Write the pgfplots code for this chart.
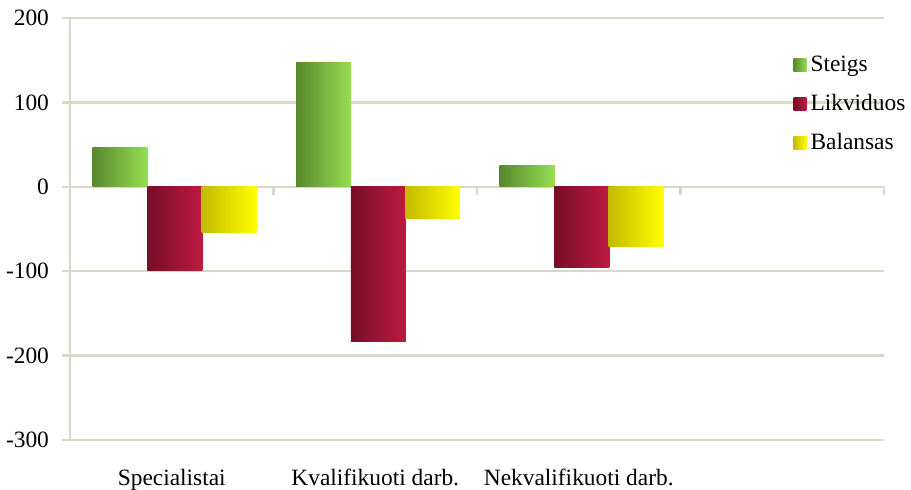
\documentclass[border=0pt]{standalone}
\usepackage{pgfplots}
\pgfplotsset{compat=1.18}
\usepackage{fontspec}
\setmainfont{Liberation Serif}
\definecolor{gridc}{RGB}{216,216,196}
\definecolor{gA}{RGB}{88,136,44}
\definecolor{gB}{RGB}{150,222,82}
\definecolor{rA}{RGB}{118,14,38}
\definecolor{rB}{RGB}{190,26,64}
\definecolor{yA}{RGB}{196,186,0}
\definecolor{yB}{RGB}{255,255,0}
\pgfplotsset{
  steigs/.style={bar shift=-0.254, draw=none, left color=gA, right color=gB},
  likv/.style={bar shift=0.015, draw=none, left color=rA, right color=rB},
  bal/.style={bar shift=0.282, draw=none, left color=yA, right color=yB},
}
\begin{document}
\begin{tikzpicture}
\begin{axis}[
  scale only axis,
  width=407pt, height=211pt,
  xmin=-0.5, xmax=3.5,
  ymin=-300, ymax=200,
  ytick={-300,-200,-100,0,100,200},
  ytick pos=left,
  xtick={0,1,2},
  xticklabels={Specialistai,Kvalifikuoti darb.,Nekvalifikuoti darb.},
  x tick style={draw=none},
  xticklabel style={yshift=-7pt},
  axis line style={draw=none},
  ymajorgrids,
  grid style={gridc, line width=1.2pt},
  y tick style={gridc, line width=1.2pt},
  tick align=outside,
  major tick length=4pt,
  yticklabel style={xshift=-3pt},
  tick label style={font=\fontsize{11.7}{13}\selectfont},
  /pgf/number format/assume math mode=true,
  ybar, bar width=0.27,
  legend style={at={(0.881,0.93)}, anchor=north west, draw=none, fill=none,
    font=\fontsize{11.7}{13}\selectfont, row sep=6pt,
    /tikz/every even column/.append style={column sep=0pt}},
  legend cell align=left,
  legend image code/.code={\path[#1, draw=none] (0pt,-3pt) rectangle (6.5pt,3.5pt);},
  clip=false,
]
\draw[gridc, line width=1.2pt] (axis cs:-0.5,-300) -- (axis cs:-0.5,200);
\draw[gridc, line width=1.2pt] (axis cs:-0.5,0) -- (axis cs:3.5,0);
\draw[gridc, line width=1.2pt] (axis cs:0.5,0) -- (axis cs:0.5,-9.5);
\draw[gridc, line width=1.2pt] (axis cs:1.5,0) -- (axis cs:1.5,-9.5);
\draw[gridc, line width=1.2pt] (axis cs:2.5,0) -- (axis cs:2.5,-9.5);
\draw[gridc, line width=1.2pt] (axis cs:3.5,0) -- (axis cs:3.5,-9.5);
% Steigs
\addplot[steigs, forget plot] coordinates {(0,46)};
\addplot[steigs, forget plot] coordinates {(1,147)};
\addplot[steigs, forget plot] coordinates {(2,25)};
% Likviduos
\addplot[likv, forget plot] coordinates {(0,-99)};
\addplot[likv, forget plot] coordinates {(1,-183)};
\addplot[likv, forget plot] coordinates {(2,-96)};
% Balansas
\addplot[bal, forget plot] coordinates {(0,-54)};
\addplot[bal, forget plot] coordinates {(1,-37)};
\addplot[bal, forget plot] coordinates {(2,-71)};
\addlegendimage{left color=gA, right color=gB}
\addlegendentry{Steigs}
\addlegendimage{left color=rA, right color=rB}
\addlegendentry{Likviduos}
\addlegendimage{left color=yA, right color=yB}
\addlegendentry{Balansas}
\end{axis}
\pgfresetboundingbox
\path[use as bounding box] (-35pt,-25pt) rectangle (420.5pt,220pt);
\end{tikzpicture}
\end{document}
